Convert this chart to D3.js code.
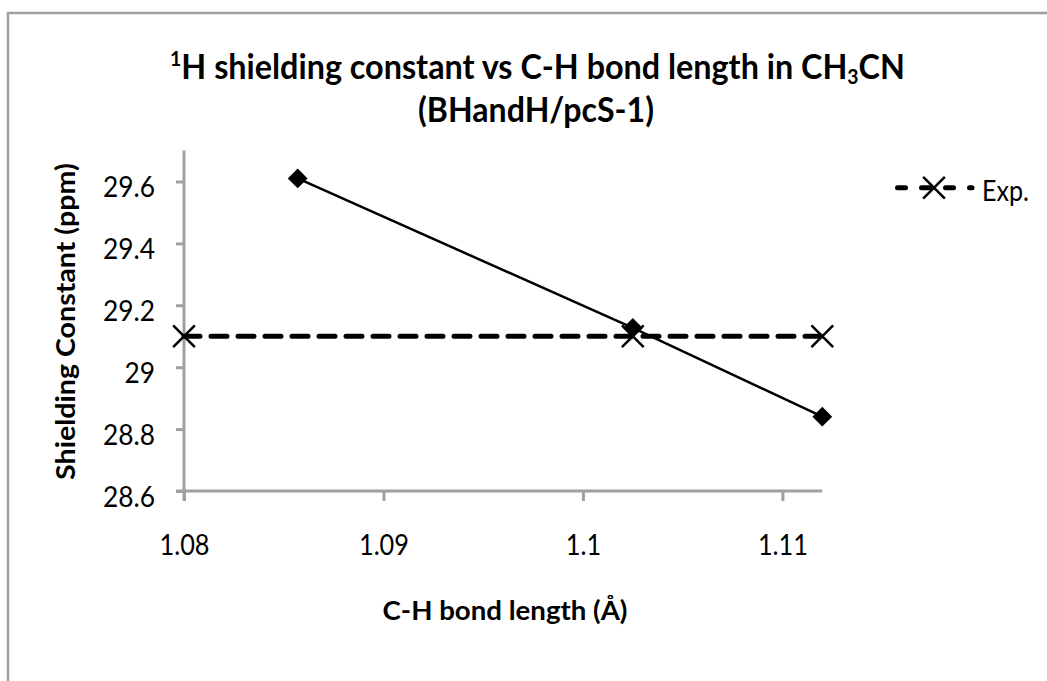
<!DOCTYPE html>
<html>
<head>
<meta charset="utf-8">
<script src="https://cdn.jsdelivr.net/npm/d3@7"></script>
<style>
  html, body { margin: 0; padding: 0; background: #fff; }
  svg { display: block; }
  text { font-family: Lato, "Open Sans", sans-serif; fill: #000; }
</style>
</head>
<body>
<svg id="chart" width="1047" height="681"></svg>
<script>
// Calculated 1H shielding (BHandH/pcS-1) at several C-H bond lengths
const bondLength = [1.0857, 1.1025, 1.112];
const calcShielding = [29.61, 29.127, 28.84];

// Experimental reference value, drawn across the same range
const expBondLength = [1.08, 1.1025, 1.112];
const expShielding = [29.1, 29.1, 29.1];

const xTicks = [1.08, 1.09, 1.1, 1.11];
const yTicks = [28.6, 28.8, 29.0, 29.2, 29.4, 29.6];
const xDomain = [1.08, 1.112];
const yDomain = [28.6, 29.7];

const svg = d3.select("#chart");
const axisColor = "#a0a0a0";

// chart frame
svg.append("rect")
  .attr("x", 8).attr("y", 13)
  .attr("width", 1060).attr("height", 700)
  .attr("fill", "#fff")
  .attr("stroke", axisColor)
  .attr("stroke-width", 2.5);

const x = d3.scaleLinear().domain(xDomain).range([184, 822.3]);
const y = d3.scaleLinear().domain([28.6, 29.6]).range([491, 181.5]);
const yTop = y(yDomain[1]);

// Place a text node at (ax, ay) and squeeze it horizontally so its run
// is `target` pixels long; `rot` rotates the run direction.
function placeFit(sel, ax, ay, target, rot) {
  sel.attr("x", 0).attr("y", 0).attr("dy", null);
  const w = sel.node().getBBox().width;
  const sx = w > 0 ? target / w : 1;
  sel.attr("transform",
    `translate(${ax},${ay})` + (rot ? ` rotate(${rot})` : "") + ` scale(${sx.toFixed(4)},1)`);
  return sx;
}

// y axis
const yAxis = svg.append("g")
  .attr("transform", "translate(184,0)")
  .call(d3.axisLeft(y).tickValues(yTicks).tickSize(8).tickSizeOuter(0)
    .tickFormat(d => String(+d.toFixed(1))));
yAxis.select(".domain").remove();
yAxis.append("line")
  .attr("x1", 0).attr("x2", 0)
  .attr("y1", yTop).attr("y2", 501)
  .attr("stroke", axisColor).attr("stroke-width", 3);
yAxis.selectAll(".tick line").attr("stroke", axisColor).attr("stroke-width", 3);
const yLabels = yAxis.selectAll(".tick text")
  .attr("font-size", 29)
  .attr("font-family", "Lato, sans-serif")
  .attr("fill", "#000");
// common horizontal squeeze taken from the 29.6 label (52 px wide)
const yRef = yLabels.filter(d => d === 29.6);
const ySx = 52 / yRef.node().getBBox().width;
yLabels.attr("x", 0).attr("y", 0).attr("dy", null)
  .attr("transform", `translate(-29,15) scale(${ySx.toFixed(4)},1)`);

// x axis
const xAxis = svg.append("g")
  .attr("transform", "translate(0,491)")
  .call(d3.axisBottom(x).tickValues(xTicks).tickSize(10).tickSizeOuter(0)
    .tickFormat(d => String(+d.toFixed(2))));
xAxis.select(".domain").remove();
xAxis.append("line")
  .attr("x1", 176).attr("x2", x(xDomain[1]))
  .attr("y1", 0).attr("y2", 0)
  .attr("stroke", axisColor).attr("stroke-width", 3);
xAxis.selectAll(".tick line").attr("stroke", axisColor).attr("stroke-width", 3);
const xLabels = xAxis.selectAll(".tick text")
  .attr("font-size", 29)
  .attr("font-family", "Lato, sans-serif")
  .attr("fill", "#000");
const xRef = xLabels.filter(d => d === 1.08);
const xSx = 50 / xRef.node().getBBox().width;
xLabels.attr("x", 0).attr("y", 0).attr("dy", null)
  .attr("transform", `translate(0,64) scale(${xSx.toFixed(4)},1)`);

// experimental series: thick dashed line with x markers
const expData = expBondLength.map((b, i) => [b, expShielding[i]]);
svg.append("path")
  .datum(expData)
  .attr("d", d3.line().x(d => x(d[0])).y(d => y(d[1])))
  .attr("fill", "none")
  .attr("stroke", "#000")
  .attr("stroke-width", 5)
  .attr("stroke-linecap", "round")
  .attr("stroke-dasharray", "16,11");

// calculated series: solid line with diamond markers
const calcData = bondLength.map((b, i) => [b, calcShielding[i]]);
svg.append("path")
  .datum(calcData)
  .attr("d", d3.line().x(d => x(d[0])).y(d => y(d[1])))
  .attr("fill", "none")
  .attr("stroke", "#000")
  .attr("stroke-width", 2.5);

const diamond = d3.symbol().type(d3.symbolDiamond2).size(250);
svg.selectAll(".calc-mark")
  .data(calcData)
  .join("path")
  .attr("class", "calc-mark")
  .attr("transform", d => `translate(${x(d[0])},${y(d[1])})`)
  .attr("d", diamond)
  .attr("fill", "#000");

const cross = d3.symbol().type(d3.symbolX).size(310);
svg.selectAll(".exp-mark")
  .data(expData)
  .join("path")
  .attr("class", "exp-mark")
  .attr("transform", d => `translate(${x(d[0])},${y(d[1])})`)
  .attr("d", cross)
  .attr("fill", "none")
  .attr("stroke", "#000")
  .attr("stroke-width", 2.5);

// legend
const legend = svg.append("g");
legend.append("line")
  .attr("x1", 897.5).attr("x2", 972)
  .attr("y1", 187.7).attr("y2", 187.7)
  .attr("stroke", "#000").attr("stroke-width", 5)
  .attr("stroke-linecap", "round")
  .attr("stroke-dasharray", "8,16");
legend.append("path")
  .attr("transform", "translate(934,187.7)")
  .attr("d", cross)
  .attr("fill", "none").attr("stroke", "#000").attr("stroke-width", 2.5);
const legText = legend.append("text")
  .attr("font-size", 29)
  .text("Exp.");
placeFit(legText, 982, 201, 47);

// titles
const t1 = svg.append("text")
  .attr("text-anchor", "middle")
  .attr("font-weight", "bold")
  .attr("font-size", 35);
t1.append("tspan").attr("font-size", "0.6em").attr("dy", "-0.6em").text("1");
t1.append("tspan").attr("dy", "0.36em").text("H shielding constant vs C-H bond length in CH");
t1.append("tspan").attr("font-size", "0.6em").attr("dy", "0.22em").text("3");
t1.append("tspan").attr("dy", "-0.132em").text("CN");
placeFit(t1, 537.5, 79, 735);

const t2 = svg.append("text")
  .attr("text-anchor", "middle")
  .attr("font-weight", "bold")
  .attr("font-size", 35)
  .text("(BHandH/pcS-1)");
placeFit(t2, 536, 122, 236);

const xt = svg.append("text")
  .attr("text-anchor", "middle")
  .attr("font-weight", "bold")
  .attr("font-size", 26)
  .text("C-H bond length (Å)");
placeFit(xt, 505, 620, 245);

const yt = svg.append("text")
  .attr("text-anchor", "middle")
  .attr("font-weight", "bold")
  .attr("font-size", 27)
  .text("Shielding Constant (ppm)");
placeFit(yt, 74.5, 321.5, 317, -90);
</script>
</body>
</html>
